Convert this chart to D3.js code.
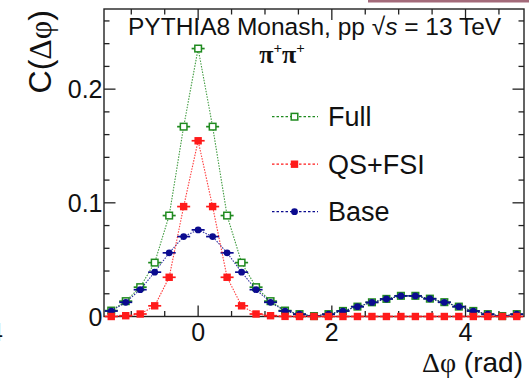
<!DOCTYPE html>
<html>
<head>
<meta charset="utf-8">
<script src="https://cdn.jsdelivr.net/npm/d3@7"></script>
<style>
  html, body { margin: 0; padding: 0; background: #fff; }
  svg { display: block; }
  text { font-family: "Liberation Sans", Arial, sans-serif; fill: #111; }
  .greek { font-family: "Liberation Serif", "DejaVu Serif", serif; }
</style>
</head>
<body>
<svg id="chart" width="529" height="378"></svg>
<script>
// Histogram binning: 29 bins over 2π, bin index k runs from -6 to 22
const nBins = 29;
const binWidth = 2 * Math.PI / nBins;
const binIndex = d3.range(-6, 23);
const deltaPhi = binIndex.map(k => k * binWidth);

// Correlation function values per bin
const fullValues = [
  0.0052, 0.0135, 0.0258, 0.0474, 0.0888, 0.1670, 0.2357, 0.1670, 0.0888, 0.0474,
  0.0258, 0.0135, 0.0052, 0.0021, 0.0004, 0.0021, 0.0049, 0.0087, 0.0125, 0.0155,
  0.0182, 0.0182, 0.0157, 0.0126, 0.0087, 0.0049, 0.0021, 0.0004, 0.0021
];
const qsFsiValues = [
  0.0000, 0.0007, 0.0022, 0.0094, 0.0345, 0.0967, 0.1546, 0.0967, 0.0345, 0.0094,
  0.0022, 0.0007, 0.0001, 0.0000, 0.0000, 0.0000, 0.0000, 0.0000, 0.0000, 0.0000,
  0.0000, 0.0000, 0.0000, 0.0000, 0.0000, 0.0000, 0.0000, 0.0000, 0.0000
];
const baseValues = [
  0.0048, 0.0125, 0.0236, 0.0390, 0.0560, 0.0703, 0.0762, 0.0703, 0.0560, 0.0390,
  0.0236, 0.0125, 0.0048, 0.0020, 0.0004, 0.0020, 0.0048, 0.0086, 0.0124, 0.0154,
  0.0181, 0.0181, 0.0156, 0.0125, 0.0086, 0.0048, 0.0020, 0.0004, 0.0020
];

const seriesNames = ["Full", "QS+FSI", "Base"];
const xTickValues = [0, 2, 4];
const yTickValues = [0, 0.1, 0.2];

const svg = d3.select("#chart");
const W = 529, H = 378;
const plot = { left: 104, right: 524, top: 9, bottom: 316.5 };

const x = d3.scaleLinear()
  .domain([-6.5 * binWidth, 22.5 * binWidth])
  .range([plot.left, plot.right]);
const y = d3.scaleLinear()
  .domain([0, 0.2705])
  .range([plot.bottom, plot.top]);

// Fragments of neighbouring panels at the page edges
svg.append("rect").attr("x", 368).attr("y", 0).attr("width", W - 368).attr("height", 2.5)
  .attr("fill", "#a36a7a");
svg.append("text").attr("x", -11).attr("y", 341).attr("font-size", 25).text("4");

// Axis frame with ticks on all four sides
const frame = svg.append("g");
const axisColor = "#222";
frame.append("rect")
  .attr("x", plot.left).attr("y", plot.top)
  .attr("width", plot.right - plot.left).attr("height", plot.bottom - plot.top)
  .attr("fill", "none").attr("stroke", axisColor).attr("stroke-width", 1.4);

const xMinor = d3.range(-1.0, 4.9, 0.5).filter(v => v > x.domain()[0] && v < x.domain()[1]);
const yMinor = d3.range(0.02, 0.27, 0.02);

function tick(x1, y1, x2, y2) {
  frame.append("line").attr("x1", x1).attr("y1", y1).attr("x2", x2).attr("y2", y2)
    .attr("stroke", axisColor).attr("stroke-width", 1.3);
}
xMinor.forEach(v => {
  const isMajor = Math.abs(v / 2 - Math.round(v / 2)) < 1e-6;
  const len = isMajor ? 11 : 5.5;
  tick(x(v), plot.bottom, x(v), plot.bottom - len);
  tick(x(v), plot.top, x(v), plot.top + len);
});
yMinor.forEach(v => {
  const isMajor = Math.abs(v * 10 - Math.round(v * 10)) < 1e-6;
  const len = isMajor ? 11.5 : 5.5;
  tick(plot.left, y(v), plot.left + len, y(v));
  tick(plot.right, y(v), plot.right - len, y(v));
});

// Tick labels
svg.append("g").selectAll("text").data(xTickValues).join("text")
  .attr("x", d => x(d)).attr("y", 341)
  .attr("text-anchor", "middle").attr("font-size", 25)
  .text(d => d3.format("d")(d));
svg.append("g").selectAll("text").data(yTickValues).join("text")
  .attr("x", 102.5).attr("y", d => y(d) + 9)
  .attr("text-anchor", "end").attr("font-size", 25)
  .text(d => d === 0 ? "0" : d3.format(".1f")(d));

// Axis titles
const xTitle = svg.append("text").attr("x", 523).attr("y", 372)
  .attr("text-anchor", "end").attr("font-size", 28);
xTitle.append("tspan").attr("class", "greek").text("Δφ");
xTitle.append("tspan").text(" (rad)");

const yTitle = svg.append("text")
  .attr("transform", "translate(51,10) rotate(-90)")
  .attr("text-anchor", "end").attr("font-size", 32);
yTitle.append("tspan").text("C(");
yTitle.append("tspan").attr("class", "greek").text("Δφ");
yTitle.append("tspan").text(")");

// Header labels
const header = svg.append("text").attr("x", 128).attr("y", 35).attr("font-size", 24.5);
header.append("tspan").text("PYTHIA8 Monash, pp  √");
header.append("tspan").attr("font-style", "italic").text("s");
header.append("tspan").text(" = 13 TeV");

const pion = svg.append("text").attr("x", 282).attr("y", 63)
  .attr("text-anchor", "middle").attr("font-size", 26).attr("font-weight", "bold")
  .attr("class", "greek");
pion.append("tspan").text("π");
pion.append("tspan").attr("font-size", 15).attr("dy", -10).text("+");
pion.append("tspan").attr("dy", 10).text("π");
pion.append("tspan").attr("font-size", 15).attr("dy", -10).text("+");

// Series drawing
const styles = {
  "Full":   { color: "#1f8a1f", values: fullValues,  marker: "openSquare" },
  "QS+FSI": { color: "#ff1a1a", values: qsFsiValues, marker: "square" },
  "Base":   { color: "#0b0b8f", values: baseValues,  marker: "circle" }
};
const drawOrder = ["Full", "Base", "QS+FSI"];

function drawMarker(g, type, cx, cy, color) {
  if (type === "openSquare") {
    g.append("rect").attr("x", cx - 3.3).attr("y", cy - 3.3).attr("width", 6.6).attr("height", 6.6)
      .attr("fill", "#fff").attr("stroke", color).attr("stroke-width", 1.5);
  } else if (type === "square") {
    g.append("rect").attr("x", cx - 3.7).attr("y", cy - 3.7).attr("width", 7.4).attr("height", 7.4)
      .attr("fill", color);
  } else {
    g.append("circle").attr("cx", cx).attr("cy", cy).attr("r", 3.4).attr("fill", color);
  }
}

const line = d3.line().x(d => x(d[0])).y(d => y(d[1]));

drawOrder.forEach(name => {
  const s = styles[name];
  const pts = deltaPhi.map((p, i) => [p, s.values[i]]);
  const g = svg.append("g");
  g.append("path").datum(pts).attr("d", line)
    .attr("fill", "none").attr("stroke", s.color).attr("stroke-width", 1.1)
    .attr("stroke-dasharray", "1.5,1.3").attr("opacity", 0.85);
  pts.forEach(([p, v]) => {
    g.append("line")
      .attr("x1", x(p - 0.45 * binWidth)).attr("x2", x(p + 0.45 * binWidth))
      .attr("y1", y(v)).attr("y2", y(v))
      .attr("stroke", s.color).attr("stroke-width", 1.7);
    drawMarker(g, s.marker, x(p), y(v), s.color);
  });
});

// Legend
const legend = svg.append("g");
seriesNames.forEach((name, i) => {
  const s = styles[name];
  const ly = 116.7 + i * 47.5;
  legend.append("line").attr("x1", 272).attr("x2", 318).attr("y1", ly).attr("y2", ly)
    .attr("stroke", s.color).attr("stroke-width", 1.2).attr("stroke-dasharray", "2.5,2");
  drawMarker(legend, s.marker, 294.5, ly, s.color);
  legend.append("text").attr("x", 328).attr("y", ly + 9.5).attr("font-size", 27).text(name);
});
</script>
</body>
</html>
